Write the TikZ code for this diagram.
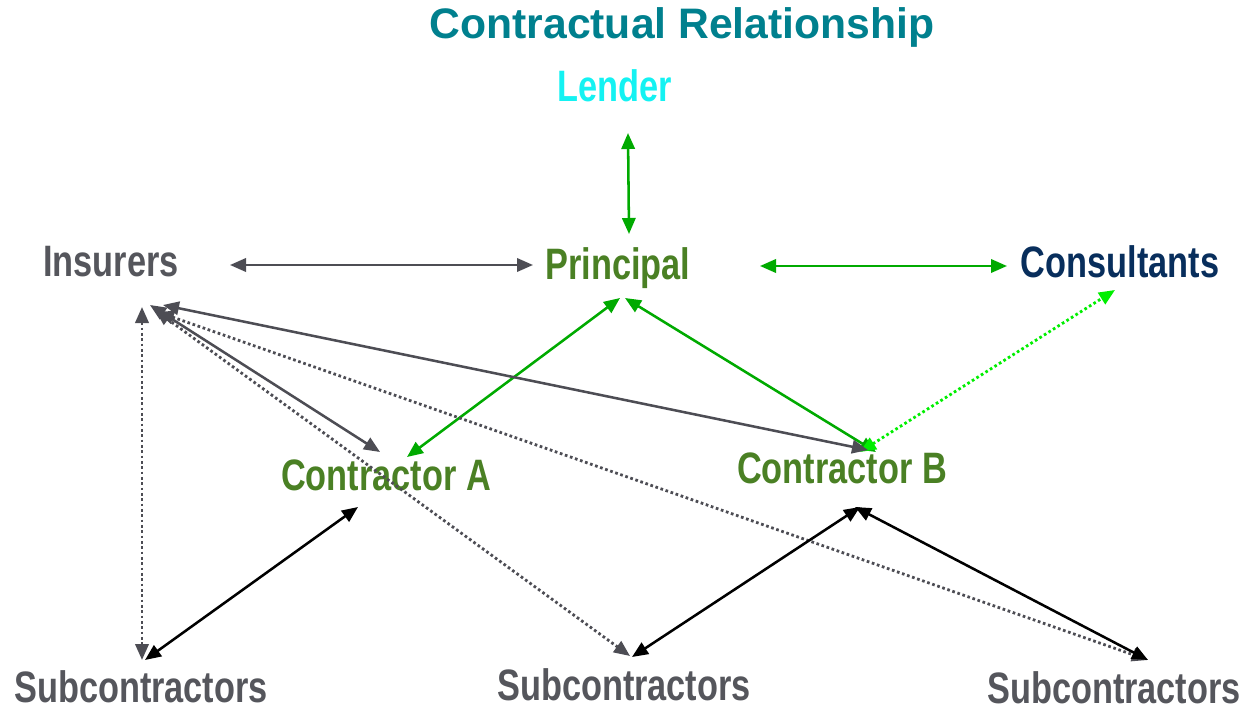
\documentclass[tikz,border=0pt]{standalone}
\usepackage{fontspec}
\setmainfont{Liberation Sans}
\newfontfamily\narrowfont{Liberation Sans}[FakeStretch=0.78]
\usetikzlibrary{arrows.meta}

\definecolor{ttlteal}{RGB}{0,128,142}
\definecolor{lendcyan}{RGB}{20,242,242}
\definecolor{prigreen}{RGB}{74,128,36}
\definecolor{consnavy}{RGB}{8,46,92}
\definecolor{txtgray}{RGB}{85,86,92}
\definecolor{arrgray}{RGB}{77,77,84}
\definecolor{arrgreen}{RGB}{0,170,0}
\definecolor{litegreen}{RGB}{0,238,0}

\begin{document}
\begin{tikzpicture}[x=0.75pt,y=-0.75pt,
  lbl/.style={anchor=base,inner sep=0pt,
    font=\narrowfont\bfseries\fontsize{33}{36}\selectfont},
  link/.style={line width=1.9pt,
    {Triangle[length=12pt,width=10pt]}-{Triangle[length=12pt,width=10pt]}},
  dots/.style={link,line width=2.1pt,dash pattern=on 2pt off 2pt},
  graylink/.style={link,draw=arrgray},
  greenlink/.style={link,draw=arrgreen},
  blacklink/.style={link,draw=black},
  graydots/.style={dots,draw=arrgray},
  greendots/.style={dots,draw=litegreen}]
\useasboundingbox (0,0) rectangle (1247,710);

% title and parties
\node[anchor=base,inner sep=0pt,text=ttlteal,
  font=\bfseries\fontsize{32}{36}\selectfont] (title) at (682,39)
  {Contractual Relationship};
\node[lbl,text=lendcyan]  (lender) at (615,102) {Lender};
\node[lbl,text=txtgray]   (ins)    at (111,276) {Insurers};
\node[lbl,text=prigreen]  (pri)    at (618,279) {Principal};
\node[lbl,text=consnavy]  (cons)   at (1120,277) {Consultants};
\node[lbl,text=prigreen]  (ca)     at (386,490) {Contractor A};
\node[lbl,text=prigreen]  (cb)     at (842,483) {Contractor B};
\node[lbl,text=txtgray]   (subl)   at (141,702) {Subcontractors};
\node[lbl,text=txtgray]   (subm)   at (624,700) {Subcontractors};
\node[lbl,text=txtgray]   (subr)   at (1114,703) {Subcontractors};

% principal's contracts
\draw[greenlink] ([shift={(13,31)}]lender.base) -- ([shift={(11,-45)}]pri.base);
\draw[graylink]  ([shift={(119,-11)}]ins.base) -- ([shift={(-85,-14)}]pri.base);
\draw[greenlink] ([shift={(142,-13)}]pri.base) -- ([shift={(-113,-11)}]cons.base);
\draw[greenlink] ([shift={(2,19)}]pri.base) -- ([shift={(21,-33)}]ca.base);
\draw[greenlink] ([shift={(7,19)}]pri.base) -- ([shift={(34,-31)}]cb.base);
\draw[greendots] ([shift={(18,-31)}]cb.base) -- ([shift={(-5,13)}]cons.base);

% insurance cover
\draw[graylink]  ([shift={(39,29)}]ins.base) -- ([shift={(-6,-38)}]ca.base);
\draw[graylink]  ([shift={(52,29)}]ins.base) -- ([shift={(26,-33)}]cb.base);
\draw[graydots]  ([shift={(31,31)}]ins.base) -- ([shift={(1,-42)}]subl.base);
\draw[graydots]  ([shift={(44,34)}]ins.base) -- ([shift={(6,-44)}]subm.base);
\draw[graydots]  ([shift={(47,36)}]ins.base) -- ([shift={(34,-43)}]subr.base);

% subcontracts
\draw[blacklink] ([shift={(-28,17)}]ca.base) -- ([shift={(4,-42)}]subl.base);
\draw[blacklink] ([shift={(18,24)}]cb.base) -- ([shift={(8,-43)}]subm.base);
\draw[blacklink] ([shift={(13,24)}]cb.base) -- ([shift={(34,-43)}]subr.base);
\end{tikzpicture}
\end{document}
